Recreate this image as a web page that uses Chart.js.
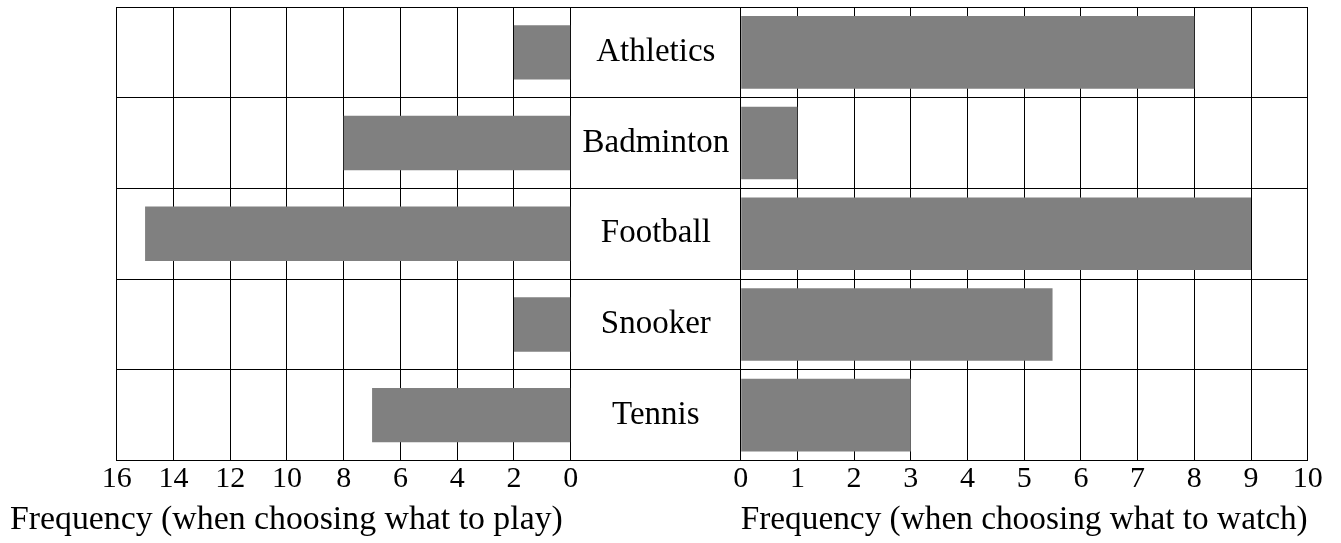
<!DOCTYPE html>
<html>
<head>
<meta charset="utf-8">
<script src="https://cdn.jsdelivr.net/npm/chart.js@4.4.1/dist/chart.umd.min.js"></script>
<style>
  html, body { margin: 0; padding: 0; background: #ffffff; }
  #wrap { position: relative; width: 1341px; height: 543px; overflow: hidden; background: #ffffff; }
  #wrap canvas { position: absolute; top: 0; }
  #cPlay { left: 0; }
  #cWatch { left: 571px; }
</style>
</head>
<body>
<div id="wrap">
  <canvas id="cPlay" width="740" height="543"></canvas>
  <canvas id="cWatch" width="770" height="543"></canvas>
</div>
<script>
// ---- data ----
const sports = ['Athletics', 'Badminton', 'Football', 'Snooker', 'Tennis'];
const playFreq = [2, 8, 15, 2, 7];
const watchFreq = [8, 1, 9, 5.5, 3];
const playTicks = [16, 14, 12, 10, 8, 6, 4, 2, 0];
const watchTicks = [0, 1, 2, 3, 4, 5, 6, 7, 8, 9, 10];
const playTitle = 'Frequency (when choosing what to play)';
const watchTitle = 'Frequency (when choosing what to watch)';

// ---- style ----
const FAMILY = "'Liberation Serif', 'Times New Roman', serif";
const BAR = '#808080';
const LINE = '#000000';
const LABEL_W = 169.7;
const TITLE_SIZE = 33.8;
const TITLE_H = TITLE_SIZE * 1.2 + 3;

const measureCtx = document.createElement('canvas').getContext('2d');
measureCtx.font = '33px ' + FAMILY;
const widest = Math.max(...sports.map(s => measureCtx.measureText(s).width));

const common = {
  indexAxis: 'y',
  responsive: false,
  animation: false
};

// Left panel: frequency when choosing what to play (drawn leftwards)
new Chart(document.getElementById('cPlay'), {
  type: 'bar',
  data: {
    labels: sports,
    datasets: [{
      data: playFreq.map(v => -v),
      xAxisID: 'x',
      yAxisID: 'y',
      backgroundColor: BAR,
      borderWidth: 0,
      categoryPercentage: 0.6,
      barPercentage: 1
    }]
  },
  options: Object.assign({}, common, {
    layout: { padding: { left: 10, top: 7, right: 0, bottom: 0 } },
    plugins: {
      legend: { display: false },
      tooltip: { enabled: false },
      title: {
        display: true, position: 'bottom', align: 'start', text: playTitle,
        font: { family: FAMILY, size: TITLE_SIZE, weight: 'normal' }, color: '#000',
        padding: { top: 0, bottom: 3 }
      }
    },
    scales: {
      y: {
        type: 'category',
        position: 'right',
        ticks: { display: false },
        grid: { color: LINE, lineWidth: 1, drawTicks: true, tickLength: 171, offset: true },
        border: { display: true, color: LINE, width: 1 },
        afterFit: s => { s.width = LABEL_W - 0.4; s.paddingTop = 0; s.paddingBottom = 0; }
      },
      x: {
        type: 'linear',
        min: -playTicks[0],
        max: 0,
        afterBuildTicks: s => { s.ticks = playTicks.map(v => ({ value: -v })); },
        ticks: {
          callback: v => String(Math.abs(v)),
          font: { family: FAMILY, size: 30 },
          color: '#000',
          padding: 1,
          maxRotation: 0,
          autoSkip: false
        },
        grid: { color: LINE, lineWidth: 1, drawTicks: false },
        border: { display: true, color: LINE, width: 1 },
        afterFit: s => { s.height = 82.5 - TITLE_H; }
      },
      yPad: {
        type: 'linear',
        axis: 'y',
        position: 'left',
        display: true,
        ticks: { display: false },
        grid: { display: false, drawTicks: false },
        border: { display: false },
        afterFit: s => { s.width = 106.7; s.paddingTop = 0; s.paddingBottom = 0; }
      }
    }
  })
});

// Right panel: frequency when choosing what to watch
new Chart(document.getElementById('cWatch'), {
  type: 'bar',
  data: {
    labels: sports,
    datasets: [{
      data: watchFreq,
      backgroundColor: BAR,
      borderWidth: 0,
      categoryPercentage: 0.8,
      barPercentage: 1
    }]
  },
  options: Object.assign({}, common, {
    layout: { padding: { left: 0, top: 7, right: 33.3, bottom: 0 } },
    plugins: { legend: { display: false }, tooltip: { enabled: false } },
    scales: {
      x: {
        type: 'linear',
        min: 0,
        max: watchTicks[watchTicks.length - 1],
        afterBuildTicks: s => { s.ticks = watchTicks.map(v => ({ value: v })); },
        ticks: {
          font: { family: FAMILY, size: 30 },
          color: '#000',
          padding: 1,
          maxRotation: 0,
          autoSkip: false
        },
        grid: { color: LINE, lineWidth: 1, drawTicks: false },
        border: { display: true, color: LINE, width: 1 },
        title: {
          display: true, text: watchTitle, align: 'center',
          font: { family: FAMILY, size: 33.5 }, color: '#000',
          padding: { top: 0, bottom: 3 }
        },
        afterFit: s => { s.height = 82.5; }
      },
      y: {
        position: 'left',
        ticks: {
          font: { family: FAMILY, size: 33 },
          color: '#000',
          crossAlign: 'center',
          padding: LABEL_W / 2 - widest / 2
        },
        grid: { color: LINE, lineWidth: 1, drawTicks: false, offset: true },
        border: { display: true, color: LINE, width: 1 },
        afterFit: s => { s.width = LABEL_W; s.paddingTop = 0; s.paddingBottom = 0; }
      }
    }
  })
});
</script>
</body>
</html>
